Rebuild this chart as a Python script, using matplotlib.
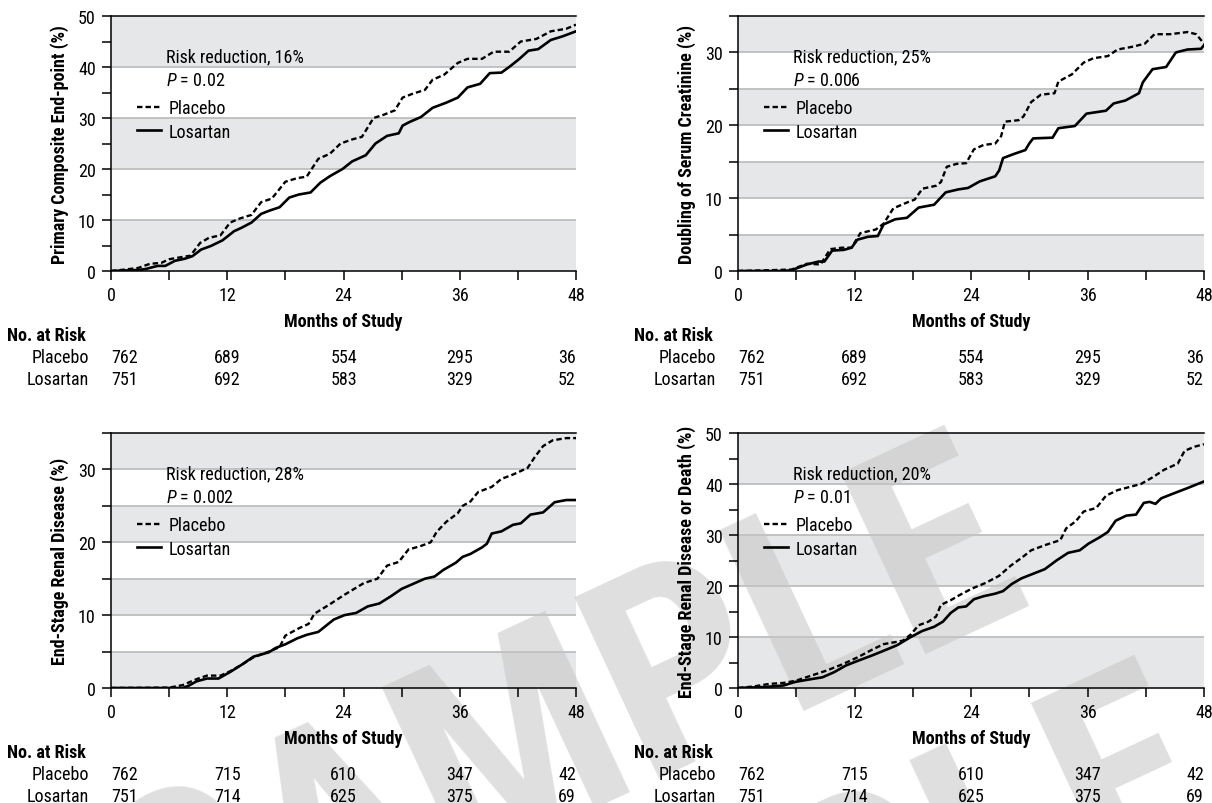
import matplotlib
matplotlib.use("Agg")
import matplotlib.pyplot as plt
from matplotlib import font_manager as fm
from matplotlib.transforms import blended_transform_factory
from matplotlib.ticker import MultipleLocator

# ---------------- data ----------------
months_ticks = [0, 12, 24, 36, 48]

titles = ["Primary Composite End-point (%)",
          "Doubling of Serum Creatinine (%)",
          "End-Stage Renal Disease (%)",
          "End-Stage Renal Disease or Death (%)"]
risk_reduction = ["16%", "25%", "28%", "20%"]
p_values = ["0.02", "0.006", "0.002", "0.01"]
y_max = [50, 35, 35, 50]

risk_placebo = [[762, 689, 554, 295, 36], [762, 689, 554, 295, 36],
                [762, 715, 610, 347, 42], [762, 715, 610, 347, 42]]
risk_losartan = [[751, 692, 583, 329, 52], [751, 692, 583, 329, 52],
                 [751, 714, 625, 375, 69], [751, 714, 625, 375, 69]]

p1_placebo_x = [0, 1.5, 2.8, 4.0, 5.2, 6.0, 7.2, 8.2, 9.2, 10.1, 11.3, 12.3, 13.3, 14.5, 15.5, 16.6, 18.0, 19.2, 20.2, 21.4, 22.6, 23.7, 24.9, 25.9, 27.1, 28.1, 29.3, 30.1, 31.2, 32.4, 33.2, 34.4, 35.8, 36.8, 38.3, 39.5, 41.1, 42.3, 43.9, 45.4, 47.0, 48.0]
p1_placebo_y = [0, 0.3, 0.6, 1.4, 1.6, 2.3, 2.7, 3.0, 5.5, 6.5, 7.0, 9.5, 10.3, 11.0, 13.5, 14.2, 17.5, 18.2, 18.5, 22.0, 23.0, 25.0, 25.8, 26.3, 30.0, 30.6, 31.5, 34.0, 34.8, 35.5, 37.5, 38.5, 40.8, 41.6, 41.6, 43.0, 43.0, 45.0, 45.5, 47.0, 47.5, 48.3]
p1_losartan_x = [0, 2.8, 3.6, 4.8, 5.6, 6.6, 7.6, 8.4, 9.3, 10.3, 11.5, 12.7, 13.5, 14.5, 15.5, 16.3, 17.4, 18.4, 19.4, 20.6, 21.6, 22.6, 23.9, 24.9, 26.3, 27.3, 28.5, 29.7, 30.1, 30.8, 32.0, 33.2, 34.6, 35.8, 36.8, 38.1, 39.1, 40.3, 41.1, 42.1, 43.1, 44.1, 45.4, 46.6, 48.0]
p1_losartan_y = [0, 0.2, 0.4, 1.0, 1.0, 2.0, 2.4, 2.9, 4.2, 4.9, 6.0, 7.8, 8.5, 9.5, 11.2, 11.8, 12.5, 14.4, 15.0, 15.4, 17.3, 18.6, 20.0, 21.5, 22.7, 25.0, 26.5, 27.0, 28.5, 29.2, 30.2, 32.0, 33.0, 34.0, 36.0, 36.7, 38.8, 38.9, 40.0, 41.5, 43.2, 43.5, 45.3, 46.0, 47.0]

p2_placebo_x = [0, 3.0, 5.5, 5.9, 7.1, 8.5, 9.5, 10.7, 11.7, 12.6, 14.2, 15.0, 16.0, 17.4, 18.2, 19.0, 20.4, 20.9, 21.5, 22.5, 23.5, 24.3, 25.3, 26.5, 27.1, 27.5, 28.9, 29.4, 30.2, 31.2, 32.6, 33.0, 34.4, 35.6, 36.6, 38.1, 39.1, 40.7, 41.9, 42.9, 44.5, 46.3, 47.2, 48.0]
p2_placebo_y = [0, 0.1, 0.2, 0.4, 1.0, 0.9, 3.0, 3.2, 3.2, 5.2, 5.7, 6.5, 8.6, 9.4, 9.8, 11.3, 11.7, 12.2, 14.3, 14.7, 14.8, 16.7, 17.3, 17.5, 18.5, 20.5, 20.7, 21.2, 23.2, 24.2, 24.4, 26.0, 27.0, 28.6, 29.2, 29.5, 30.4, 30.8, 31.2, 32.5, 32.5, 32.8, 32.5, 31.2]
p2_losartan_x = [0, 4.5, 5.5, 7.1, 8.3, 8.9, 9.7, 10.9, 11.7, 12.3, 13.4, 14.4, 15.0, 16.2, 17.4, 18.6, 20.2, 21.4, 22.7, 23.7, 24.9, 26.5, 26.9, 27.3, 28.5, 29.6, 30.0, 30.4, 32.4, 33.0, 34.7, 35.9, 37.9, 38.7, 39.9, 41.3, 41.7, 42.7, 44.1, 45.1, 46.3, 47.7, 48.0]
p2_losartan_y = [0, 0, 0.1, 0.9, 1.3, 1.3, 2.8, 2.9, 3.2, 4.3, 4.7, 4.8, 6.4, 7.1, 7.3, 8.7, 9.1, 10.8, 11.2, 11.4, 12.3, 13.0, 13.8, 15.5, 16.1, 16.6, 17.5, 18.2, 18.3, 19.6, 19.9, 21.6, 22.0, 23.0, 23.4, 24.4, 25.9, 27.7, 28.0, 30.0, 30.4, 30.5, 31.0]

p3_placebo_x = [0, 6.0, 7.4, 8.8, 9.9, 11.3, 12.3, 13.5, 14.7, 16.3, 17.4, 18.0, 19.4, 20.4, 21.0, 22.6, 24.1, 26.1, 27.5, 28.5, 29.7, 30.7, 32.0, 33.0, 33.6, 34.6, 35.8, 36.3, 37.1, 37.9, 39.3, 40.3, 41.5, 43.0, 43.8, 44.6, 45.6, 47.0, 48.0]
p3_placebo_y = [0, 0.05, 0.4, 1.2, 1.7, 1.7, 2.3, 3.2, 4.2, 5.0, 5.6, 7.2, 8.2, 8.8, 10.2, 11.5, 12.8, 14.4, 15.0, 16.8, 17.3, 19.0, 19.5, 20.0, 21.4, 22.8, 24.0, 25.0, 25.6, 26.9, 27.6, 28.7, 29.3, 30.2, 31.8, 33.2, 34.0, 34.3, 34.3]
p3_losartan_x = [0, 7.4, 8.0, 8.8, 9.9, 11.1, 12.3, 13.5, 14.7, 16.3, 17.0, 18.0, 19.2, 20.2, 21.4, 23.0, 24.1, 25.3, 26.5, 27.7, 28.9, 30.0, 31.2, 32.4, 33.4, 34.3, 35.6, 36.3, 37.1, 38.3, 38.8, 39.3, 40.3, 41.5, 42.3, 43.3, 44.6, 45.8, 47.0, 48.0]
p3_losartan_y = [0, 0, 0.3, 0.9, 1.3, 1.3, 2.2, 3.2, 4.3, 4.9, 5.5, 6.0, 6.8, 7.3, 7.7, 9.4, 10.0, 10.3, 11.2, 11.6, 12.6, 13.6, 14.3, 15.0, 15.3, 16.2, 17.2, 18.0, 18.4, 19.3, 19.8, 21.2, 21.5, 22.4, 22.6, 23.8, 24.1, 25.5, 25.8, 25.8]

p4_placebo_x = [0, 1.6, 3.2, 4.7, 5.9, 7.5, 9.1, 10.7, 12.3, 13.8, 15.0, 16.2, 17.0, 17.8, 18.6, 19.6, 20.4, 20.9, 21.9, 22.9, 24.1, 25.5, 26.9, 28.1, 29.2, 30.2, 31.6, 33.2, 33.8, 34.8, 35.6, 36.9, 37.9, 39.1, 40.5, 41.5, 42.7, 43.9, 45.3, 46.0, 47.0, 48.0]
p4_placebo_y = [0, 0.3, 0.8, 1.0, 1.4, 2.4, 3.4, 4.6, 6.0, 7.5, 8.6, 9.0, 9.3, 10.5, 12.3, 13.0, 14.0, 16.3, 17.2, 18.3, 19.5, 20.6, 22.0, 24.0, 25.5, 27.0, 28.0, 29.0, 31.3, 32.7, 34.6, 35.3, 37.7, 38.8, 39.5, 40.0, 41.3, 42.8, 44.0, 46.5, 47.3, 47.8]
p4_losartan_x = [0, 2.8, 4.7, 5.9, 7.1, 8.7, 9.9, 11.1, 12.3, 13.7, 15.0, 16.4, 17.8, 19.0, 20.2, 21.1, 21.9, 22.7, 23.5, 24.3, 25.3, 26.5, 27.3, 28.2, 29.2, 30.4, 31.6, 32.8, 34.0, 35.2, 36.1, 37.3, 38.1, 38.9, 40.0, 41.0, 41.8, 42.4, 43.0, 43.6, 44.8, 46.3, 48.0]
p4_losartan_y = [0, 0.2, 0.5, 1.2, 1.6, 2.1, 3.1, 4.4, 5.3, 6.3, 7.3, 8.4, 10.0, 11.2, 12.0, 13.0, 14.7, 15.8, 16.0, 17.4, 18.0, 18.5, 19.0, 20.4, 21.5, 22.4, 23.3, 25.0, 26.5, 27.0, 28.3, 29.6, 30.6, 32.8, 33.8, 34.0, 36.3, 36.5, 36.1, 37.2, 38.1, 39.2, 40.5]

placebo_x = [p1_placebo_x, p2_placebo_x, p3_placebo_x, p4_placebo_x]
placebo_y = [p1_placebo_y, p2_placebo_y, p3_placebo_y, p4_placebo_y]
losartan_x = [p1_losartan_x, p2_losartan_x, p3_losartan_x, p4_losartan_x]
losartan_y = [p1_losartan_y, p2_losartan_y, p3_losartan_y, p4_losartan_y]


# ---------------- fonts ----------------
def pick_font():
    fl = fm.fontManager.ttflist
    names = {f.name for f in fl}
    for n in ["Liberation Sans Narrow", "Roboto Condensed", "Noto Sans Condensed",
              "Open Sans Condensed", "DejaVu Sans Condensed", "Arial Narrow",
              "Noto Sans Display Condensed"]:
        if n in names:
            return n, "normal"
    cond = ("condensed", "semi-condensed", "extra-condensed", "ultra-condensed")
    for fam in ["Roboto", "Noto Sans", "Open Sans", "DejaVu Sans", "Liberation Sans"]:
        for f in fl:
            st = f.stretch
            if f.name == fam and ((isinstance(st, str) and st in cond) or
                                  (isinstance(st, int) and st < 500)):
                return fam, "condensed"
    for f in fl:
        if ("Condensed" in f.name or "Narrow" in f.name) and "CJK" not in f.name:
            return f.name, "normal"
    return "DejaVu Sans", "normal"


FONT, STRETCH = pick_font()
plt.rcParams["font.family"] = [FONT, "DejaVu Sans"]
plt.rcParams["font.stretch"] = STRETCH
plt.rcParams["mathtext.fontset"] = "custom"
plt.rcParams["mathtext.rm"] = FONT
plt.rcParams["mathtext.it"] = FONT + ":italic"

BAND = "#e6e7e8"
GRID = "#bdbec0"

W, H = 1212, 804
fig = plt.figure(figsize=(W / 100, H / 100), dpi=100)
renderer = fig.canvas.get_renderer()


def fit(s, target, weight="normal", base=10.0):
    t = fig.text(0, 0, s, fontsize=base, fontweight=weight)
    w = t.get_window_extent(renderer).width
    t.remove()
    return base * target / w


FS = min(13.0, fit("Risk reduction, 16%", 145))
FS_TICK = FS
FS_XL = min(13.0, fit("Months of Study", 122, "bold"))
FS_RISK = min(13.0, fit("No. at Risk", 82, "bold"))
FS_YL = min(13.0, fit("Primary Composite End-point (%)", 247, "bold"))

# axes boxes in pixels: left, right, top, bottom
boxes = [(111, 576, 17, 272), (738, 1204, 17, 272),
         (111, 576, 434, 689), (738, 1204, 434, 689)]

for i, (l, r, t, b) in enumerate(boxes):
    rect = [l / W, (H - b) / H, (r - l) / W, (b - t) / H]
    ym = y_max[i]
    step = 10 if ym == 50 else 5

    # background layer (bands + grid) below the watermark
    axb = fig.add_axes(rect, zorder=0)
    axb.set_xlim(0, 48)
    axb.set_ylim(0, ym)
    axb.axis("off")
    k, v = 0, 0
    while v < ym:
        if k % 2 == 0:
            axb.axhspan(v, min(v + step, ym), color=BAND, lw=0)
        k += 1
        v += step
    for g in range(step, ym, step):
        axb.axhline(g, color=GRID, lw=1.3)

    # foreground layer
    ax = fig.add_axes(rect, zorder=2)
    ax.set_facecolor("none")
    ax.plot(placebo_x[i], placebo_y[i], color="black", lw=1.7,
            dashes=(2.3, 1.3), label="Placebo", zorder=3,
            dash_joinstyle="round")
    ax.plot(losartan_x[i], losartan_y[i], color="black", lw=1.9,
            label="Losartan", zorder=3, solid_joinstyle="round")

    ax.set_xlim(0, 48)
    ax.set_ylim(0, ym)
    ax.xaxis.set_major_locator(MultipleLocator(12))
    ax.xaxis.set_minor_locator(MultipleLocator(6))
    ax.yaxis.set_major_locator(MultipleLocator(10))
    ax.yaxis.set_minor_locator(MultipleLocator(5))
    ax.tick_params(which="both", direction="out", length=6.5, width=1.1,
                   labelsize=FS_TICK, pad=4.5)
    for s in ["left", "bottom", "top"]:
        ax.spines[s].set_linewidth(1.1)
    ax.spines["right"].set_visible(False)

    ax.set_ylabel(titles[i], fontsize=FS_YL, fontweight="bold")
    ax.yaxis.set_label_coords(-0.091, 0.5)
    ax.text(0.5, -0.196, "Months of Study", transform=ax.transAxes,
            ha="center", va="center", fontsize=FS_XL, fontweight="bold")

    ax.text(0.118, 0.843, "Risk reduction, " + risk_reduction[i],
            transform=ax.transAxes, ha="left", va="center", fontsize=FS)
    ax.text(0.118, 0.749, "$P$ = " + p_values[i],
            transform=ax.transAxes, ha="left", va="center", fontsize=FS)
    ax.legend(loc="upper left", bbox_to_anchor=(0.056, 0.675),
              frameon=False, fontsize=FS, handlelength=1.3,
              handletextpad=0.45, labelspacing=0.32, borderpad=0,
              borderaxespad=0)

    # number at risk table
    tr = blended_transform_factory(ax.transData, ax.transAxes)
    ax.text(-0.223, -0.251, "No. at Risk", transform=ax.transAxes,
            ha="left", va="center", fontsize=FS_RISK, fontweight="bold")
    for row_y, lab, vals in [(-0.336, "Placebo", risk_placebo[i]),
                             (-0.422, "Losartan", risk_losartan[i])]:
        ax.text(-0.047, row_y, lab, transform=ax.transAxes, ha="right",
                va="center", fontsize=FS)
        for j, (m, val) in enumerate(zip(months_ticks, vals)):
            ha = "left" if j == 0 else ("right" if j == len(vals) - 1 else "center")
            ax.text(m, row_y, str(val), transform=tr, ha=ha, va="center",
                    fontsize=FS)

# ---------------- watermark (between bands and curves) ----------------
WM_FS = fit("SAMPLE", 960, "bold")
wm_kw = dict(fontsize=WM_FS, fontweight="bold", color="#c5c5c5", alpha=0.55,
             rotation=25, rotation_mode="anchor", ha="center", va="center",
             zorder=1)
fig.text(567 / W, 1 - 732 / H, "SAMPLE", **wm_kw)
fig.text(757 / W, 1 - 962 / H, "SAMPLE", **wm_kw)

fig.savefig("out.png", dpi=100)
